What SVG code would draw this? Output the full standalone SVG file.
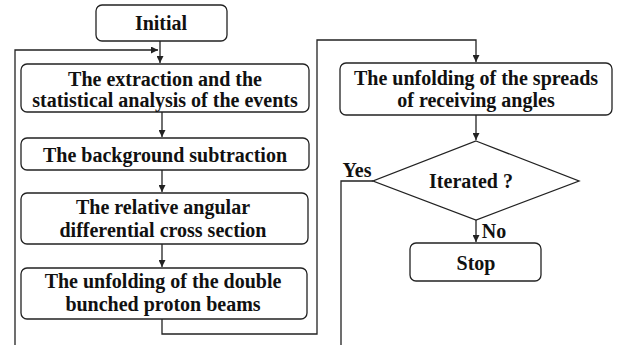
<svg xmlns="http://www.w3.org/2000/svg" width="621" height="345" viewBox="0 0 621 345">
<style>
.n{fill:#fff;stroke:#222;stroke-width:1.3}
.c{fill:none;stroke:#222;stroke-width:1.3}
</style>
<defs>
<marker id="a" viewBox="0 0 10 10" refX="10" refY="5" markerWidth="7" markerHeight="7" markerUnits="userSpaceOnUse" orient="auto"><path d="M0,0L10,5L0,10z" fill="#222"/></marker>
</defs>
<rect width="621" height="345" fill="#fff"/>
<g id="connectors">
<path class="c" d="M160,41V63" marker-end="url(#a)"/>
<path class="c" d="M15,345V50H158" marker-end="url(#a)"/>
<path class="c" d="M162,112V137" marker-end="url(#a)"/>
<path class="c" d="M162,170V192" marker-end="url(#a)"/>
<path class="c" d="M162,244V267" marker-end="url(#a)"/>
<path class="c" d="M162,319V334H317V40H476V62" marker-end="url(#a)"/>
<path class="c" d="M476,115V140" marker-end="url(#a)"/>
<path class="c" d="M373,181H341V345"/>
<path class="c" d="M476,220V242" marker-end="url(#a)"/>
</g>
<g font-weight="bold" font-size="20" fill="#111" text-anchor="middle">
<g id="initial"><rect class="n" x="96" y="5" width="131" height="36" rx="6"/><text font-family="Liberation Serif" x="161" y="30">Initial</text></g>
<g id="extraction"><rect class="n" x="21" y="64" width="288" height="48" rx="6"/><text font-family="Liberation Serif" x="165" y="86">The extraction and the</text><text font-family="Liberation Serif" x="165" y="107">statistical analysis of the events</text></g>
<g id="background"><rect class="n" x="21" y="138" width="288" height="32" rx="6"/><text font-family="Liberation Serif" x="165" y="162">The background subtraction</text></g>
<g id="relative"><rect class="n" x="21" y="193" width="287" height="51" rx="6"/><text font-family="Liberation Serif" x="163" y="214">The relative angular</text><text font-family="Liberation Serif" x="163" y="237">differential cross section</text></g>
<g id="double"><rect class="n" x="21" y="268" width="286" height="51" rx="6"/><text font-family="Liberation Serif" x="163" y="288">The unfolding of the double</text><text font-family="Liberation Serif" x="163" y="311">bunched proton beams</text></g>
<g id="spreads"><rect class="n" x="340" y="63" width="272" height="52" rx="6"/><text font-family="Liberation Serif" x="476" y="85">The unfolding of the spreads</text><text font-family="Liberation Serif" x="476" y="107">of receiving angles</text></g>
<g id="iterated"><path class="n" d="M476,141L579,181L476,220L373,181z"/><text font-family="Liberation Serif" x="471" y="188">Iterated ?</text></g>
<text font-family="Liberation Serif" x="357" y="177">Yes</text>
<text font-family="Liberation Serif" x="494" y="238">No</text>
<g id="stop"><rect class="n" x="410" y="243" width="131" height="38" rx="6"/><text font-family="Liberation Serif" x="476" y="270">Stop</text></g>
</g>
</svg>
